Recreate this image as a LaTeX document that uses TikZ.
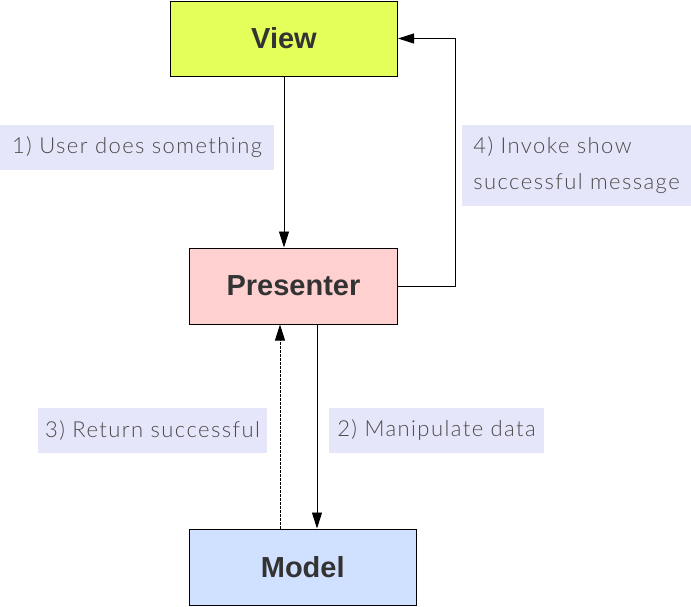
\documentclass[tikz,border=0pt]{standalone}
\usepackage{fontspec}
\setmainfont{Liberation Sans}
\newfontfamily\lblfont{Lato Light}[LetterSpace=6.5]
\usetikzlibrary{arrows.meta}
\definecolor{viewc}{RGB}{229,255,90}
\definecolor{presc}{RGB}{255,208,208}
\definecolor{modelc}{RGB}{208,224,255}
\definecolor{lblc}{RGB}{230,230,250}
\definecolor{lbltext}{RGB}{75,75,75}
\definecolor{boxtext}{RGB}{51,51,51}
\begin{document}
\begin{tikzpicture}[x=1pt,y=-1pt,
  box/.style={draw=black, line width=1pt, inner sep=0pt, minimum height=76pt,
    font=\fontsize{29}{29}\selectfont\bfseries, text=boxtext},
  lbl/.style={fill=lblc, inner sep=0pt, minimum height=45pt, text=lbltext,
    font=\lblfont\fontsize{22}{36}\selectfont},
  arr/.style={line width=0.9pt, -{Triangle[length=16pt,width=10pt]}}]
\useasboundingbox (0,0) rectangle (691,606);
\fill[white] (0,0) rectangle (691,606);
\node[box, fill=viewc, minimum width=227pt, minimum height=75pt] (view) at (284,38.5) {View};
\node[box, fill=presc, minimum width=208pt] (pres) at (293.5,286) {Presenter};
\node[box, fill=modelc, minimum width=226.5pt] (model) at (302.75,567) {Model};
\node[lbl, minimum width=274pt] (l1) at (137,147.5) {1) User does something};
\node[lbl, minimum width=229pt, minimum height=81pt, align=left] (l4) at (576.5,165.5) {4) Invoke show\\successful message};
\node[lbl, minimum width=229pt] (l3) at (152.5,430.5) {3) Return successful};
\node[lbl, minimum width=215pt] (l2) at (436.5,430.5) {2) Manipulate data};
\draw[arr] (view.south) -- (view.south |- pres.north);
\draw[arr] (pres.east) -- ++(57,0) |- (view.east);
\draw[arr] ([xshift=23.5pt]pres.south) -- ([xshift=23.5pt]pres.south |- model.north);
\draw[arr, dash pattern=on 2.5pt off 1.5pt] ([xshift=-13.5pt]pres.south |- model.north) -- ([xshift=-13.5pt]pres.south);
\end{tikzpicture}
\end{document}
